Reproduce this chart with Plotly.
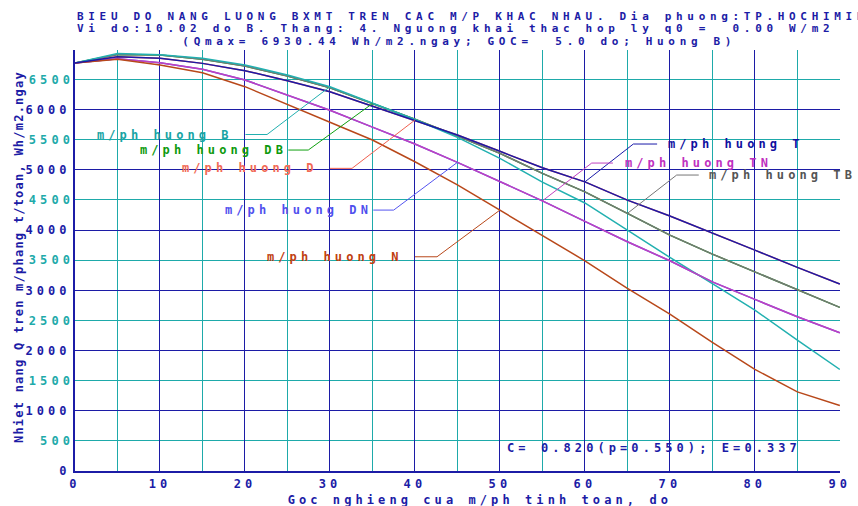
import plotly.graph_objects as go

# ---------------- data ----------------
angles = [0, 5, 10, 15, 20, 25, 30, 35, 40, 45, 50, 55, 60, 65, 70, 75, 80, 85, 90]

q_B  = [6775, 6930, 6913, 6852, 6741, 6575, 6381, 6108, 5835, 5540, 5191, 4795, 4450, 4000, 3546, 3110, 2671, 2173, 1686]
q_TB = [6775, 6915, 6905, 6835, 6724, 6558, 6364, 6100, 5840, 5561, 5274, 4942, 4635, 4277, 3917, 3601, 3307, 3003, 2716]
q_T  = [6775, 6879, 6852, 6768, 6646, 6480, 6298, 6060, 5827, 5578, 5308, 5035, 4800, 4498, 4233, 3955, 3668, 3380, 3103]
q_TN = [6775, 6846, 6779, 6669, 6492, 6243, 5990, 5710, 5430, 5125, 4808, 4485, 4145, 3806, 3490, 3141, 2849, 2560, 2294]
q_N  = [6775, 6835, 6741, 6613, 6381, 6080, 5790, 5495, 5134, 4750, 4332, 3917, 3490, 3031, 2605, 2134, 1686, 1314, 1088]
# East-facing orientations mirror the West-facing ones at this latitude
q_DB = list(q_TB)
q_D  = list(q_T)
q_DN = list(q_TN)

x_tick_vals = [0, 10, 20, 30, 40, 50, 60, 70, 80, 90]
y_major_vals = [0, 1000, 2000, 3000, 4000, 5000, 6000]
y_minor_vals = [500, 1500, 2500, 3500, 4500, 5500, 6500]

title_lines = [
    "BIEU DO NANG LUONG BXMT TREN CAC M/P KHAC NHAU. Dia phuong:TP.HOCHIMINH",
    "Vi do:10.02 do B. Thang: 4. Nguong khai thac hop ly q0 = \u00a00.00 W/m2",
    "(Qmax= 6930.44 Wh/m2.ngay; GOC= \u00a05.0 do; Huong B)",
]
x_title = "Goc nghieng cua m/ph tinh toan, do"
y_title = "Nhiet nang Q tren m/phang t/toan, Wh/m2.ngay"
coef_text = "C= 0.820(p=0.550); E=0.337"

series_names = ["DB", "D", "DN", "TB", "B", "TN", "N", "T"]
series_values = {"B": q_B, "DB": q_DB, "D": q_D, "DN": q_DN, "N": q_N,
                 "TN": q_TN, "T": q_T, "TB": q_TB}

# ---------------- style ----------------
DARK = "#1c1ca6"
TEAL = "#1eaaaa"
line_colors = {"B": "#22b0b0", "DB": "#10a010", "D": "#f06050", "DN": "#5555f0",
               "N": "#b8481a", "TN": "#c040c0", "T": "#1a1aa8", "TB": "#767676"}
text_colors = {"B": "#18a4a4", "DB": "#0e9a0e", "D": "#f26a55", "DN": "#5050ee",
               "N": "#c04010", "TN": "#c030c0", "T": "#1010a0", "TB": "#555555"}
FONT = "DejaVu Sans Mono"
FS = 12
FS_TITLE = 11

# label layout: anchor angle on curve, text left (deg), text y (value),
# leader horizontal start/end (deg)
label_layout = {
    "B":  dict(a=30, tx=2.39,  ty=5587, h0=20.06, h1=22.6),
    "DB": dict(a=35, tx=7.36,  ty=5329, h0=25.1,  h1=27.45),
    "D":  dict(a=40, tx=12.37, ty=5025, h0=30.0,  h1=32.6),
    "DN": dict(a=45, tx=17.46, ty=4332, h0=35.1,  h1=37.5),
    "N":  dict(a=50, tx=22.36, ty=3557, h0=40.0,  h1=42.6),
    "T":  dict(a=60, tx=69.56, ty=5429, h0=68.5,  h1=65.7),
    "TN": dict(a=55, tx=64.43, ty=5113, h0=63.3,  h1=60.8),
    "TB": dict(a=65, tx=74.42, ty=4914, h0=73.4,  h1=70.8),
}

fig = go.Figure()

for name in series_names:
    fig.add_trace(go.Scatter(x=angles, y=series_values[name], mode="lines",
                             line=dict(color=line_colors[name], width=1.5),
                             hoverinfo="skip", showlegend=False))

annotations = []
for name, L in label_layout.items():
    yv = series_values[name][angles.index(L["a"])]
    fig.add_trace(go.Scatter(x=[L["h0"], L["h1"], L["a"]], y=[L["ty"], L["ty"], yv],
                             mode="lines", line=dict(color=line_colors[name], width=1),
                             hoverinfo="skip", showlegend=False))
    annotations.append(dict(x=L["tx"], y=L["ty"], xref="x", yref="y", text="m/ph huong " + name,
                            showarrow=False, xanchor="left", yanchor="middle", align="left",
                            font=dict(family=FONT, size=FS, color=text_colors[name], weight="bold")))

# dummy trace for the secondary (teal-labelled) y axis
fig.add_trace(go.Scatter(x=[None], y=[None], yaxis="y2", showlegend=False, hoverinfo="skip"))

L_PX, R_PX, T_PX, B_PX = 75, 840, 50, 471
def px(xp):
    return (xp - L_PX) / (R_PX - L_PX)
def py(yp):
    return (B_PX - yp) / (B_PX - T_PX)

tfont = dict(family=FONT, size=FS_TITLE, color=DARK, weight="bold")
font12 = dict(family=FONT, size=FS, color=DARK, weight="bold")
annotations.append(dict(x=px(75), y=py(16.6), xref="paper", yref="paper", text=title_lines[0],
                        showarrow=False, xanchor="left", yanchor="middle", align="left", font=tfont))
annotations.append(dict(x=px(75), y=py(28.8), xref="paper", yref="paper", text=title_lines[1],
                        showarrow=False, xanchor="left", yanchor="middle", align="left", font=tfont))
annotations.append(dict(x=px(459), y=py(41.4), xref="paper", yref="paper", text=title_lines[2],
                        showarrow=False, xanchor="center", yanchor="middle", align="center", font=tfont))
annotations.append(dict(x=px(480), y=py(500), xref="paper", yref="paper", text=x_title,
                        showarrow=False, xanchor="center", yanchor="middle", align="center", font=font12))
annotations.append(dict(x=50.6, y=382, xref="x", yref="y", text=coef_text,
                        showarrow=False, xanchor="left", yanchor="middle", align="left", font=font12))
ytitle_index = len(annotations)
annotations.append(dict(x=px(19), y=py(257), xref="paper", yref="paper", text=y_title, textangle=-90,
                        showarrow=False, xanchor="center", yanchor="middle", align="center", font=font12))

fig.update_layout(
    width=858, height=506,
    margin=dict(l=L_PX, r=858 - R_PX, t=T_PX, b=506 - B_PX, pad=0),
    paper_bgcolor="white", plot_bgcolor="white",
    showlegend=False,
    annotations=annotations,
    xaxis=dict(range=[0, 90.02], tickmode="linear", tick0=x_tick_vals[0],
               dtick=x_tick_vals[1] - x_tick_vals[0],
               showgrid=True, gridcolor=DARK, gridwidth=1,
               minor=dict(tickmode="linear", tick0=0, dtick=(x_tick_vals[1] - x_tick_vals[0]) / 2,
                          showgrid=True, gridcolor=TEAL, gridwidth=1, ticks=""),
               showline=True, linecolor=DARK, linewidth=2, zeroline=False, ticks="",
               ticklabelstandoff=1, tickfont=font12, fixedrange=True),
    yaxis=dict(range=[0, 6990], tickmode="linear", tick0=y_major_vals[0],
               dtick=y_major_vals[1] - y_major_vals[0],
               showgrid=True, gridcolor=DARK, gridwidth=1,
               minor=dict(tickmode="linear", tick0=0, dtick=y_minor_vals[0],
                          showgrid=True, gridcolor=TEAL, gridwidth=1, ticks=""),
               showline=True, linecolor=DARK, linewidth=2, zeroline=False, ticks="",
               ticklabelstandoff=0, tickfont=font12, fixedrange=True),
    yaxis2=dict(range=[0, 6990], overlaying="y", side="left", tickmode="array",
                tickvals=y_minor_vals, ticktext=[str(v) for v in y_minor_vals],
                showgrid=False, showline=False, zeroline=False, ticks="",
                ticklabelstandoff=0,
                tickfont=dict(family=FONT, size=FS, color=TEAL, weight="bold"), fixedrange=True),
)

post = """
var gd = document.getElementById('{plot_id}');
gd.querySelectorAll('svg text').forEach(function(t){
  var fs = parseFloat(t.style.fontSize) || 12;
  t.style.letterSpacing = (11.3 - 0.602 * fs).toFixed(2) + 'px';
});
var yt = gd.querySelector('g.annotation[data-index="IDX"] text');
if (yt) {
  var fs2 = parseFloat(yt.style.fontSize) || 12;
  yt.style.letterSpacing = (8.45 - 0.602 * fs2).toFixed(2) + 'px';
}
""".replace("IDX", str(ytitle_index))

fig.write_html("out.html", config={"displayModeBar": False, "staticPlot": True}, post_script=post)
